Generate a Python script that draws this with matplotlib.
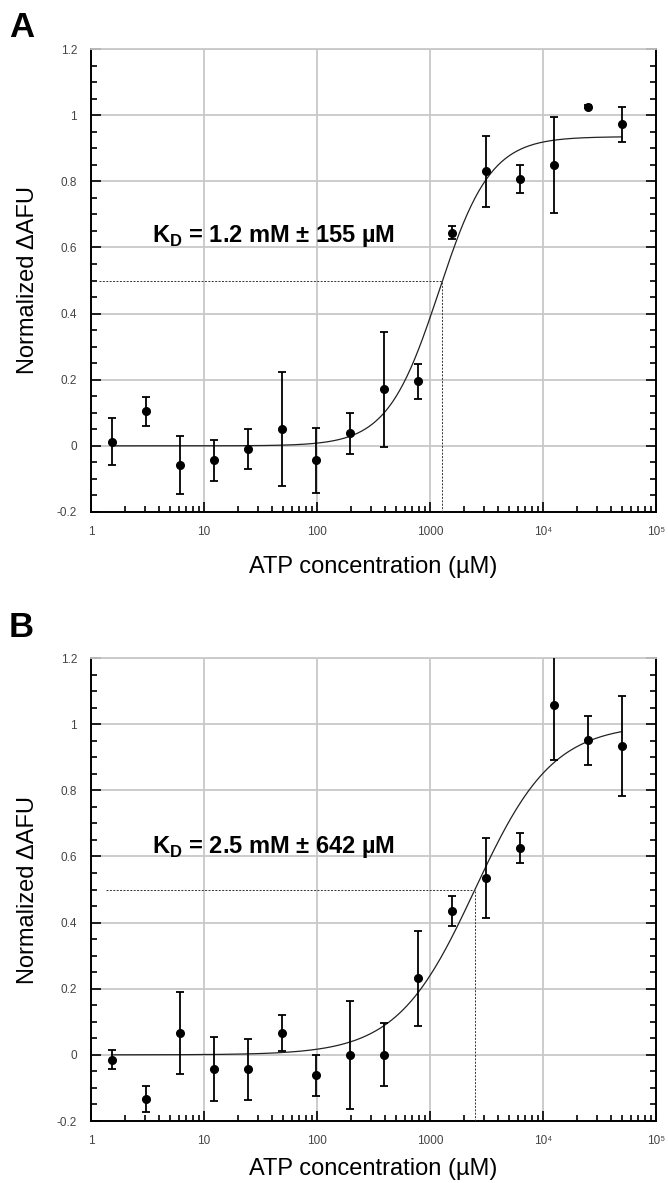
import numpy as np
import matplotlib
matplotlib.use("Agg")
import matplotlib.pyplot as plt
from matplotlib.ticker import FixedLocator, FixedFormatter, LogLocator, MultipleLocator, NullFormatter

plt.rcParams['font.family'] = ['Liberation Sans', 'DejaVu Sans']
plt.rcParams['mathtext.fontset'] = 'custom'
plt.rcParams['mathtext.rm'] = 'Liberation Sans'
plt.rcParams['mathtext.bf'] = 'Liberation Sans:bold'

# ---- data ----
conc = [1.526, 3.052, 6.104, 12.21, 24.41, 48.83, 97.66, 195.3, 390.6, 781.3,
        1562.5, 3125, 6250, 12500, 25000, 50000]

a_vals = [0.013, 0.104, -0.058, -0.044, -0.010, 0.052, -0.044, 0.038, 0.171, 0.195,
          0.645, 0.830, 0.807, 0.850, 1.026, 0.973]
a_err = [0.072, 0.045, 0.088, 0.062, 0.060, 0.172, 0.098, 0.062, 0.174, 0.053,
         0.020, 0.107, 0.041, 0.145, 0.005, 0.053]

b_vals = [-0.015, -0.134, 0.066, -0.044, -0.044, 0.066, -0.062, 0.000, 0.000, 0.231,
          0.435, 0.535, 0.626, 1.057, 0.951, 0.934]
b_err = [0.029, 0.040, 0.124, 0.097, 0.093, 0.055, 0.062, 0.163, 0.095, 0.143,
         0.044, 0.121, 0.045, 0.165, 0.075, 0.152]

# fit parameters (Hill-type)
fit_a = dict(top=0.935, kd=1200.0, n=1.9)
fit_b = dict(top=1.0, kd=2500.0, n=1.26)
half_x_a = 1276.0
half_x_b = 2512.0
dash_start_a = 1.17
dash_start_b = 1.35

kd_text_a = r"K$_\mathbf{D}$ = 1.2 mM ± 155 µM"
kd_text_b = r"K$_\mathbf{D}$ = 2.5 mM ± 642 µM"

xtick_vals = [1, 10, 100, 1000, 1e4, 1e5]
xtick_labels = ['1', '10', '100', '1000', '10⁴', '10⁵']
ytick_vals = [-0.2, 0, 0.2, 0.4, 0.6, 0.8, 1.0, 1.2]
ytick_labels = ['-0.2', '0', '0.2', '0.4', '0.6', '0.8', '1', '1.2']


def hill(x, top, kd, n):
    return top * x**n / (x**n + kd**n)


W, H = 668, 1183
fig = plt.figure(figsize=(W / 100, H / 100), dpi=100)


def make_axes(top_px, bot_px):
    left, right = 91, 656
    return fig.add_axes([left / W, 1 - bot_px / H, (right - left) / W, (bot_px - top_px) / H])


def draw(ax, vals, err, fit, half_x, dash_start, kd_text, text_y, letter, letter_y, xpad):
    ax.set_xscale('log')
    ax.set_xlim(1, 1e5)
    ax.set_ylim(-0.2, 1.2)

    # grid
    ax.set_axisbelow(True)
    ax.grid(True, which='major', color='#c8c8c8', lw=1.3)

    # spines
    for s in ['left', 'bottom', 'right']:
        ax.spines[s].set_color('black')
        ax.spines[s].set_linewidth(1.4)
    ax.spines['top'].set_color('#c8c8c8')
    ax.spines['top'].set_linewidth(1.3)

    # ticks
    ax.xaxis.set_major_locator(FixedLocator(xtick_vals))
    ax.xaxis.set_major_formatter(FixedFormatter(xtick_labels))
    ax.xaxis.set_minor_locator(LogLocator(base=10, subs=np.arange(2, 10), numticks=20))
    ax.xaxis.set_minor_formatter(NullFormatter())
    ax.yaxis.set_major_locator(FixedLocator(ytick_vals))
    ax.yaxis.set_major_formatter(FixedFormatter(ytick_labels))
    ax.yaxis.set_minor_locator(MultipleLocator(0.05))
    ax.tick_params(axis='x', which='both', direction='in', top=False, bottom=True,
                   labelsize=8.5, labelcolor='#444444', pad=10, width=1.2)
    ax.tick_params(axis='x', which='major', length=7)
    ax.tick_params(axis='x', which='minor', length=4)
    ax.tick_params(axis='y', which='both', direction='in', left=True, right=True,
                   labelsize=8.5, labelcolor='#444444', pad=10, width=1.2)
    ax.tick_params(axis='y', which='major', length=7)
    ax.tick_params(axis='y', which='minor', length=4)

    # fit curve
    xs = np.logspace(np.log10(conc[0]), np.log10(conc[-1]), 400)
    ax.plot(xs, hill(xs, **fit), color='#222222', lw=0.9, zorder=3)

    # dashed half lines
    ax.plot([dash_start, half_x], [0.5, 0.5], color='#333333', lw=0.7,
            ls=(0, (2, 1.5)), zorder=3)
    ax.plot([half_x, half_x], [-0.2, 0.5], color='#333333', lw=0.7,
            ls=(0, (2, 1.5)), zorder=3)

    # data
    ax.errorbar(conc, vals, yerr=err, fmt='o', color='black', ms=5.5,
                elinewidth=1.3, capsize=3.2, capthick=1.3, zorder=4)

    ax.text(3.47, text_y, kd_text, fontsize=17, fontweight='bold',
            ha='left', va='baseline', zorder=5)

    ax.set_xlabel('ATP concentration (µM)', fontsize=17, labelpad=xpad)
    ax.set_ylabel('Normalized ΔAFU', fontsize=17, labelpad=13)

    fig.text(9 / W, 1 - letter_y / H, letter, fontsize=25, fontweight='bold',
             ha='left', va='top')


axA = make_axes(49, 512)
draw(axA, a_vals, a_err, fit_a, half_x_a, dash_start_a, kd_text_a, 0.617, 'A', 11, 13)
axB = make_axes(658, 1121)
draw(axB, b_vals, b_err, fit_b, half_x_b, dash_start_b, kd_text_b, 0.61, 'B', 611, 8)

fig.savefig('out.png', dpi=100)
